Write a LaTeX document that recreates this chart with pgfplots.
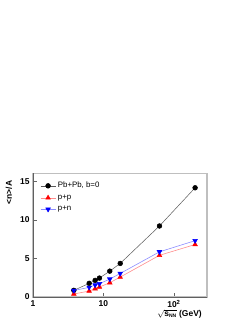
\documentclass[border=0pt]{standalone}
\usepackage{pgfplots}
\pgfplotsset{compat=1.18}
\usepackage{fontspec}
\setmainfont{Liberation Sans}
\begin{document}
\begin{tikzpicture}[x=1bp,y=1bp]
\path[use as bounding box] (0,0) rectangle (249,322);
\begin{axis}[
  at={(33bp,25bp)}, anchor=south west,
  scale only axis, width=174bp, height=123.5bp,
  xmode=log, xmin=1, xmax=295, ymin=0, ymax=16,
  log basis x=10,
  xtick={1,10,100}, xticklabels={\textbf{1},\textbf{10},\textbf{10\textsuperscript{2}}},
  ytick={0,5,10,15},
  yticklabel style={font=\fontsize{8.5}{9}\selectfont\bfseries},
  xticklabel style={font=\fontsize{8.5}{9}\selectfont\bfseries},
  /pgf/number format/assume math mode=true,
  tick align=inside, xtick pos=bottom, ytick pos=left,
  major tick length=4bp, minor tick length=2bp,
  minor y tick num=0,
  tick style={gray!80!black, line width=0.4pt},
  axis line style={draw=gray!50, line width=1.1pt},
  xlabel={\textbf{$\sqrt{\textbf{s}_{\textbf{\tiny NN}}}$ (GeV)}},
  xlabel style={font=\fontsize{8.5}{9}\selectfont, at={(axis description cs:0.99,0)}, anchor=north east, yshift=-9bp},
  ylabel={\textbf{<n>/A}},
  ylabel style={font=\fontsize{8.5}{9}\selectfont, at={(axis description cs:-0.138,0.97)}, anchor=east, rotate=0},
  legend style={draw=none, fill=none, at={(axis description cs:0.035,0.955)}, anchor=north west,
    font=\fontsize{7.9}{9}\selectfont, row sep=1.4bp, inner sep=1bp},
  legend cell align=left,
  legend image code/.code={\draw[#1] (0bp,0bp) -- (15bp,0bp); \draw[#1, only marks] plot coordinates {(7.5bp,0bp)};},
  clip=false,
]
\addplot[color=black!65, line width=0.5pt, mark=*, mark size=2.4bp, mark options={fill=black, draw=black, solid}] coordinates {
(3.8,0.86) (6.27,1.77) (7.62,2.15) (8.77,2.45) (12.3,3.35) (17.3,4.35) (62.4,9.2) (200,14.15)};
\addlegendentry{Pb+Pb, b=0}
\addplot[color=red!45, line width=0.6pt, mark=triangle*, mark size=2.6bp, mark options={fill=red, draw=red, solid}] coordinates {
(3.8,0.39) (6.27,0.77) (7.62,1.07) (8.77,1.29) (12.3,1.85) (17.3,2.58) (62.4,5.4) (200,6.8)};
\addlegendentry{p+p}
\addplot[color=blue!45, line width=0.6pt, mark=triangle*, mark size=2.6bp, mark options={fill=blue, draw=blue, solid, rotate=180}] coordinates {
(3.8,0.84) (6.27,1.25) (7.62,1.55) (8.77,1.72) (12.3,2.32) (17.3,3.05) (62.4,5.85) (200,7.3)};
\addlegendentry{p+n}
\draw[gray!75!black, line width=0.5pt] (rel axis cs:0,1) -- (rel axis cs:0,0) -- (rel axis cs:1,0);
\end{axis}
\end{tikzpicture}
\end{document}
